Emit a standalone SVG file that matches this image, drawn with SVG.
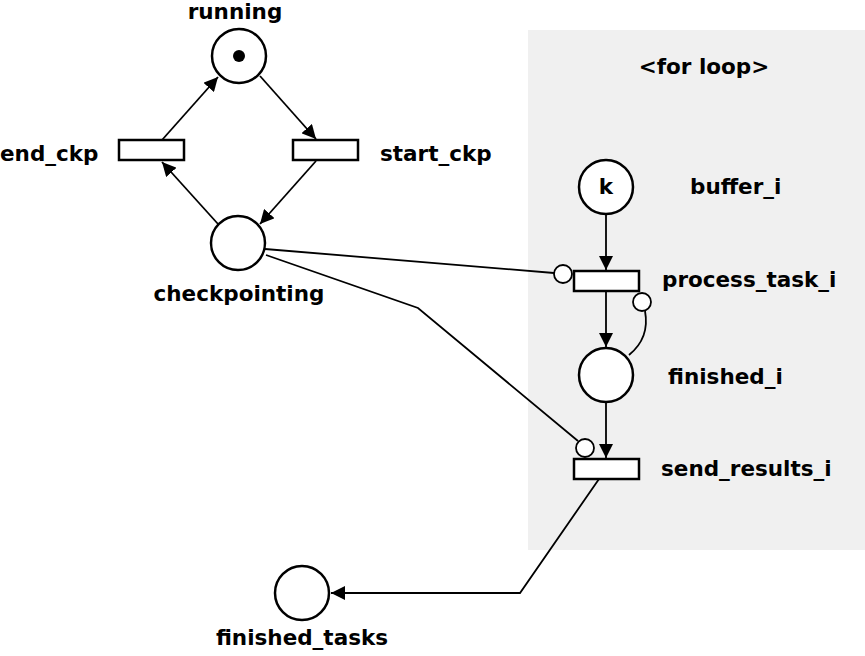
<svg xmlns="http://www.w3.org/2000/svg" width="865" height="656" viewBox="0 0 865 656">
<style>
text{font-family:"DejaVu Sans",sans-serif;font-weight:bold;font-size:21.5px;fill:#000}
.p{fill:#fff;stroke:#000;stroke-width:2.5}
.t{fill:#fff;stroke:#000;stroke-width:2.5}
.a{fill:none;stroke:#000;stroke-width:1.8}
.inh{fill:#fff;stroke:#000;stroke-width:1.8}
</style>
<defs>
<marker id="ah" viewBox="0 0 10 10" refX="10" refY="5" markerWidth="14" markerHeight="14" markerUnits="userSpaceOnUse" orient="auto">
<path d="M0,0 L10,5 L0,10 z" fill="#000"/>
</marker>
</defs>
<rect x="528" y="30" width="337" height="520" fill="#f0f0f0"/>
<text x="704" y="74" text-anchor="middle">&lt;for loop&gt;</text>
<g id="connectors">
<line class="a" x1="162" y1="140" x2="218" y2="77" marker-end="url(#ah)"/>
<line class="a" x1="260" y1="76" x2="316" y2="139" marker-end="url(#ah)"/>
<line class="a" x1="316" y1="161" x2="260" y2="224" marker-end="url(#ah)"/>
<line class="a" x1="218" y1="224" x2="162" y2="162" marker-end="url(#ah)"/>
<line class="a" x1="606" y1="214" x2="606" y2="270" marker-end="url(#ah)"/>
<line class="a" x1="606" y1="291" x2="606" y2="347" marker-end="url(#ah)"/>
<line class="a" x1="606" y1="402" x2="606" y2="458" marker-end="url(#ah)"/>
<line class="a" x1="265" y1="249" x2="554" y2="273"/>
<polyline class="a" points="266,255 418,308 578,441"/>
<path class="a" d="M629,355 Q650,338 645,311"/>
<polyline class="a" points="599,479 520,593 331,593" marker-end="url(#ah)"/>
<circle class="inh" cx="563" cy="274" r="9"/>
<circle class="inh" cx="642" cy="302" r="9"/>
<circle class="inh" cx="585" cy="448" r="9"/>
</g>
<g id="running">
<circle class="p" cx="239" cy="56" r="27"/>
<circle cx="239" cy="56" r="6" fill="#000"/>
<text x="235" y="19" text-anchor="middle">running</text>
</g>
<g id="end_ckp">
<rect class="t" x="119" y="140" width="65" height="20"/>
<text x="0" y="161">end_ckp</text>
</g>
<g id="start_ckp">
<rect class="t" x="293" y="140" width="65" height="20"/>
<text x="380" y="161">start_ckp</text>
</g>
<g id="checkpointing">
<circle class="p" cx="238" cy="243" r="27"/>
<text x="239" y="301" text-anchor="middle">checkpointing</text>
</g>
<g id="buffer_i">
<circle class="p" cx="606" cy="187" r="27"/>
<text x="606" y="194" text-anchor="middle">k</text>
<text x="690" y="194">buffer_i</text>
</g>
<g id="process_task_i">
<rect class="t" x="574" y="271" width="65" height="20"/>
<text x="662" y="287">process_task_i</text>
</g>
<g id="finished_i">
<circle class="p" cx="606" cy="375" r="27"/>
<text x="668" y="384">finished_i</text>
</g>
<g id="send_results_i">
<rect class="t" x="574" y="459" width="65" height="20"/>
<text x="661" y="476">send_results_i</text>
</g>
<g id="finished_tasks">
<circle class="p" cx="302" cy="593" r="27"/>
<text x="302" y="645" text-anchor="middle">finished_tasks</text>
</g>
</svg>
